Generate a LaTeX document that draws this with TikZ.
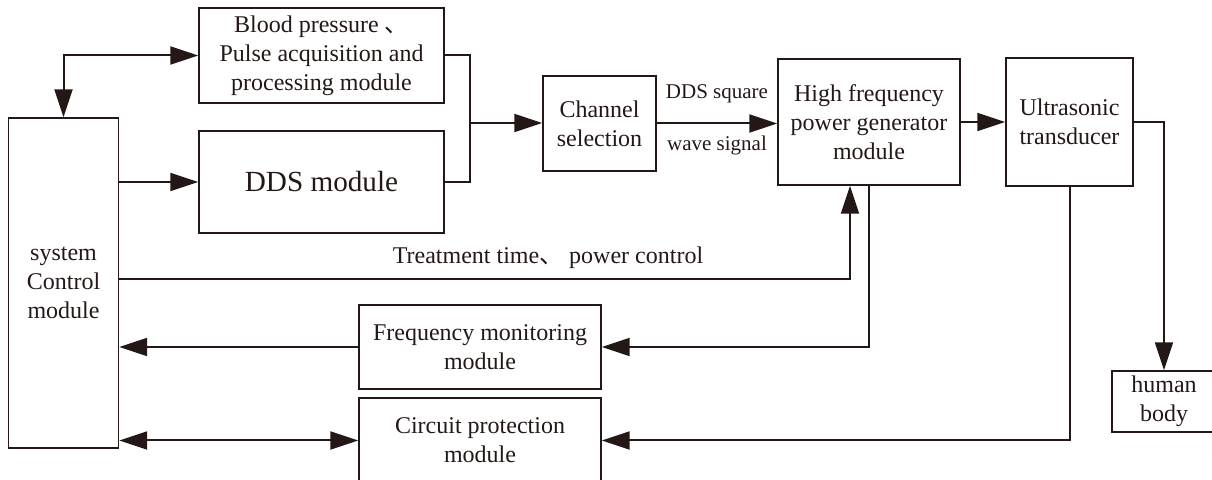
\documentclass[tikz,border=0pt]{standalone}
\usepackage{fontspec}
\setmainfont{Liberation Serif}
\newfontfamily\cjk{Noto Sans CJK SC}
\usetikzlibrary{arrows.meta}
\definecolor{ink}{RGB}{35,24,21}

\tikzset{
  block/.style={draw=ink, line width=0.7pt, text=ink, align=center, inner sep=0pt,
    font=\fontsize{12}{14.5}\selectfont},
  note/.style={text=ink, inner sep=0pt, font=\fontsize{10.5}{12}\selectfont},
  wire/.style={draw=ink, line width=1pt},
  link/.style={wire, -{Triangle[length=14pt,width=9pt]}},
  dlink/.style={wire, {Triangle[length=14pt,width=9pt]}-{Triangle[length=14pt,width=9pt]}}
}

\begin{document}
\begin{tikzpicture}[x=0.5pt,y=-0.5pt]
\useasboundingbox (0,0) rectangle (1212,480);
% blocks
\node[block, minimum width=55pt, minimum height=165pt] (ctrl) at (63.5,283) {system\\Control\\module};
\node[block, minimum width=122.5pt, minimum height=47.5pt] (bp) at (321.5,55.5) {Blood pressure {\cjk 、}\\Pulse acquisition and\\processing module};
\node[block, minimum width=122.5pt, minimum height=51pt, font=\fontsize{14.6}{17}\selectfont] (dds) at (321.5,182) {DDS module};
\node[block, minimum width=56.5pt, minimum height=47.5pt] (chan) at (599.5,123.5) {Channel\\selection};
\node[block, minimum width=91pt, minimum height=63pt] (hf) at (869,122) {High frequency\\power generator\\module};
\node[block, minimum width=63.5pt, minimum height=64pt] (us) at (1069.5,122) {Ultrasonic\\transducer};
\node[block, minimum width=52pt, minimum height=30.5pt] (body) at (1164,401.5) {human\\body};
\node[block, minimum width=121pt, minimum height=42pt] (freq) at (480,347) {Frequency monitoring\\module};
\node[block, minimum width=121pt, minimum height=42.5pt] (prot) at (480,440.5) {Circuit protection\\module};
% labels
\node[note] (sq) at (717,94) {DDS square};
\node[note] (ws) at (717,145) {wave signal};
\node[note, font=\fontsize{12}{14.5}\selectfont] (treat) at (548,258) {Treatment time{\cjk 、} power control};
% connectors
\coordinate (jn) at (470,123);
\coordinate (tin) at (850,279);
\draw[dlink] (ctrl.north) |- (bp.west);
\draw[link] (ctrl.east |- dds.west) -- (dds.west);
\draw[wire] (bp.east) -| (jn) |- (dds.east);
\draw[link] (jn) -- (jn -| chan.west);
\draw[link] (chan.east) -- (chan.east -| hf.west);
\draw[link] (hf.east) -- (hf.east -| us.west);
\draw[link] (us.east) -| (body.north);
\draw[link] (ctrl.east |- tin) -| ([xshift=-9.5pt]hf.south);
\draw[link] (hf.south) |- (freq.east);
\draw[link] (freq.west) -- (freq.west -| ctrl.east);
\draw[dlink] (ctrl.east |- prot.west) -- (prot.west);
\draw[link] (us.south) |- (prot.east);
\end{tikzpicture}
\end{document}
